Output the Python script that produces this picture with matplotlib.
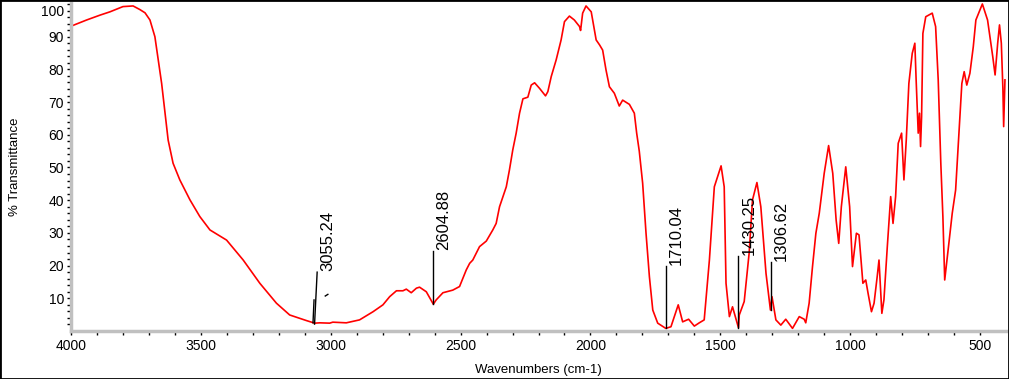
import numpy as np
import matplotlib
matplotlib.use('Agg')
import matplotlib.pyplot as plt
from matplotlib.patches import Rectangle

plt.rcParams['font.family'] = ['Liberation Sans', 'DejaVu Sans']

# espectro IR: numero de onda (cm-1) y %T
wn = [3997, 3940, 3888, 3850, 3800, 3761, 3735, 3715, 3696, 3677,
      3664, 3651, 3638, 3626, 3607, 3581, 3542, 3504, 3465, 3401,
      3337, 3273, 3209, 3158, 3094, 3062, 3042, 3004, 2992, 2940,
      2889, 2837, 2799, 2773, 2747, 2722, 2709, 2690, 2670, 2658,
      2632, 2605, 2594, 2568, 2530, 2504, 2478, 2465, 2453, 2427,
      2401, 2376, 2363, 2350, 2324, 2312, 2299, 2286, 2273, 2260,
      2241, 2228, 2215, 2196, 2173, 2164, 2151, 2132, 2113, 2100,
      2081, 2062, 2042, 2038, 2030, 2017, 1997, 1978, 1965, 1953,
      1940, 1927, 1908, 1889, 1876, 1850, 1831, 1822, 1812, 1799,
      1786, 1773, 1760, 1741, 1710, 1690, 1662, 1645, 1622, 1600,
      1581, 1562, 1542, 1523, 1497, 1485, 1478, 1465, 1453, 1430,
      1427, 1408, 1389, 1376, 1359, 1344, 1324, 1307, 1301, 1286,
      1267, 1248, 1222, 1196, 1177, 1171, 1158, 1145, 1132, 1119,
      1100, 1083, 1067, 1054, 1044, 1034, 1017, 1002, 991, 976,
      966, 951, 940, 931, 918, 908, 896, 889, 878, 870,
      857, 844, 835, 825, 815, 802, 793, 784, 774, 761,
      751, 746, 738, 733, 729, 725, 720, 709, 684, 671,
      661, 651, 643, 636, 630, 620, 607, 594, 581, 570,
      561, 551, 539, 526, 516, 491, 471, 451, 442, 432,
      425, 418, 412, 409, 404]
trans = [93.3, 95.1, 96.6, 97.6, 99.2, 99.4, 98.3, 97.3, 95.1, 90.0,
         82.9, 75.7, 66.6, 58.4, 51.3, 46.2, 40.1, 35.0, 30.9, 27.8,
         21.7, 14.6, 8.5, 4.9, 3.2, 2.4, 2.5, 2.4, 2.7, 2.5,
         3.4, 5.9, 8.0, 10.5, 12.3, 12.3, 12.8, 11.7, 13.1, 13.4,
         12.0, 8.2, 9.5, 11.7, 12.5, 13.6, 18.7, 20.7, 21.7, 25.8,
         27.5, 30.9, 32.9, 38.0, 44.1, 49.2, 55.4, 60.5, 66.6, 71.0,
         71.5, 75.2, 75.9, 74.2, 71.9, 73.2, 77.8, 82.9, 89.0, 94.6,
         96.3, 95.1, 93.1, 91.9, 97.2, 99.4, 97.6, 89.0, 87.5, 85.9,
         79.8, 74.7, 72.7, 68.8, 70.6, 69.3, 66.6, 60.5, 55.0, 45.2,
         29.9, 16.6, 6.4, 2.4, 0.8, 1.3, 8.0, 2.8, 3.6, 1.5,
         2.5, 3.4, 21.7, 44.1, 50.5, 44.1, 14.6, 4.4, 7.4, 1.0,
         4.9, 9.0, 23.8, 40.1, 45.4, 38.0, 17.6, 6.4, 10.5, 3.4,
         1.8, 3.6, 0.8, 4.4, 3.6, 2.5, 8.5, 19.7, 29.9, 36.0,
         48.2, 56.7, 48.2, 33.9, 26.8, 38.0, 50.2, 38.0, 19.7, 29.9,
         29.4, 14.6, 15.6, 11.5, 5.9, 8.5, 16.6, 21.7, 5.4, 9.5,
         25.8, 41.1, 32.9, 41.1, 57.4, 60.5, 46.2, 58.4, 75.7, 84.9,
         88.0, 76.8, 60.5, 66.6, 56.4, 65.5, 91.0, 96.1, 97.2, 93.1,
         76.8, 51.3, 35.0, 15.6, 19.7, 26.8, 36.0, 43.1, 60.5, 75.7,
         79.3, 75.2, 78.8, 86.9, 95.1, 100.0, 95.1, 83.9, 78.3, 88.0,
         93.6, 88.0, 74.2, 62.5, 76.8]

# picos marcados
peak_labels = ['3055.24', '2604.88', '1710.04', '1430.25', '1306.62']
peak_pos = [3055.24, 2604.88, 1710.04, 1430.25, 1306.62]
peak_low = [2.1, 8.2, 0.8, 0.9, 6.4]
peak_top = [18.0, 24.5, 19.9, 22.9, 21.1]

fig = plt.figure(figsize=(10.09, 3.79), dpi=100)
ax = fig.add_axes([71/1009, 48/379, 935/1009, 328/379])

ax.plot(wn, trans, color='#ff0000', lw=1.2)

for lab, x, y0, y1 in zip(peak_labels, peak_pos, peak_low, peak_top):
    if lab == '3055.24':
        ax.plot([x + 7, x - 3], [y0, y1], color='black', lw=1)
        ax.plot([x + 13, x + 9], [y0 + 0.4, 9.5], color='black', lw=1)
        ax.plot([3021, 3011], [10.7, 11.2], color='black', lw=1)
        xt = x - 3
    else:
        ax.plot([x, x], [y0, y1], color='black', lw=1)
        xt = x
    ax.annotate(lab, xy=(xt, y1), xytext=(3, 1), textcoords='offset pixels',
                rotation=90, ha='left', va='bottom', fontsize=12)

ax.set_xlim(4000, 400)
ax.set_ylim(0, 100.3)
ax.set_xticks([4000, 3500, 3000, 2500, 2000, 1500, 1000, 500])
ax.set_xticks(np.arange(500, 4000, 100), minor=True)
ax.set_yticks(np.arange(10, 101, 10))
ax.set_yticklabels([str(v) for v in range(10, 100, 10)] + [''])
ax.set_yticks(np.arange(2, 101, 2), minor=True)
ax.annotate('100', xy=(0, 100), xycoords=('axes fraction', 'data'),
            xytext=(-7, -8), textcoords='offset pixels',
            ha='right', va='center', fontsize=10)

for s in ['top', 'right']:
    ax.spines[s].set_visible(False)
for s in ['left', 'bottom']:
    ax.spines[s].set_color('#c0c0c0')
    ax.spines[s].set_linewidth(2.5)
ax.tick_params(which='both', direction='out', length=3, width=1,
               color='black', labelsize=10, pad=2)
ax.tick_params(axis='x', pad=3)

ax.set_xlabel('Wavenumbers (cm-1)', fontsize=9.5, labelpad=8)
ax.set_ylabel('% Transmittance', fontsize=9.5, labelpad=20)

fig.patches.append(Rectangle((0, 0), 1, 1, transform=fig.transFigure,
                             fill=False, ec='black', lw=2))

fig.savefig('out.png', dpi=100)
